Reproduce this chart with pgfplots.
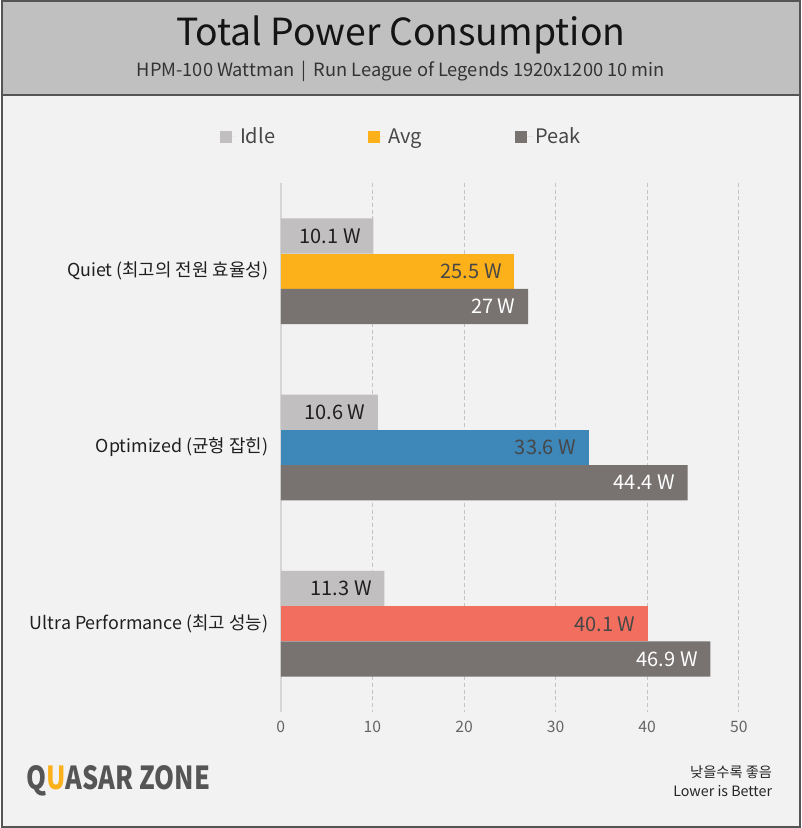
\documentclass[border=0pt]{standalone}
\usepackage{pgfplots}
\pgfplotsset{compat=1.18}
\usepackage{fontspec}
\usepackage{graphicx}
\setmainfont{Noto Sans CJK KR}
\definecolor{bg}{HTML}{F2F2F2}
\definecolor{titlebg}{HTML}{C0C0C0}
\definecolor{framec}{HTML}{555555}
\definecolor{idle}{HTML}{C1BFBF}
\definecolor{avgO}{HTML}{FCB01A}
\definecolor{avgB}{HTML}{3E87B9}
\definecolor{avgR}{HTML}{F26F5F}
\definecolor{peak}{HTML}{787271}
\definecolor{gridc}{HTML}{C4C4C4}
\definecolor{zeroc}{HTML}{D6D6D6}
\begin{document}
\begin{tikzpicture}
\fill[bg] (0,0) rectangle (600pt,621pt);
\fill[titlebg] (0,549.75pt) rectangle (600pt,621pt);
\draw[framec,line width=1.2pt] (0,549.75pt) -- (600pt,549.75pt);
\draw[framec,line width=1.5pt] (0.75pt,0.75pt) rectangle (599.25pt,620.25pt);
\node[font=\fontsize{28}{31}\selectfont, text=black!92] at (300pt,594.75pt) {Total Power Consumption};
\node[font=\fontsize{13.7}{15}\selectfont, text=black!80] at (300pt,567.75pt) {HPM-100 Wattman \,|\, Run League of Legends 1920x1200 10 min};
\node[inner sep=0pt] at (88pt,35.25pt) {\resizebox{138pt}{18pt}{\bfseries\color{framec}Q\textcolor{avgO}{U}ASAR ZONE}};
\node[anchor=east, align=right, font=\fontsize{10.7}{14}\selectfont, text=black!85] at (582pt,35pt) {낮을수록 좋음\\Lower is Better};
\begin{axis}[
  at={(210pt,87pt)}, anchor=south west, scale only axis,
  width=343.5pt, height=396.75pt,
  xbar, xmin=0, xmax=50, ymin=-0.5, ymax=2.5, y dir=reverse,
  bar width=0.2,
  xtick={0,10,...,50}, ytick={0,1,2},
  yticklabels={Quiet (최고의 전원 효율성), Optimized (균형 잡힌), Ultra Performance (최고 성능)},
  axis line style={draw=none}, major tick length=0pt,
  xmajorgrids, grid style={gridc, line width=0.6pt, dash pattern=on 3pt off 2pt},
  extra x ticks={0}, extra x tick labels={},
  extra x tick style={grid style={solid, zeroc, line width=1.6pt}},
  /pgf/number format/assume math mode=true,
  xticklabel style={font=\fontsize{11.8}{13}\selectfont, text=black!60, yshift=-3pt},
  yticklabel style={font=\fontsize{13.4}{15}\selectfont, text=black!88, xshift=-6pt},
  point meta=x,
  nodes near coords={\pgfmathprintnumber{\pgfplotspointmeta} W},
  nodes near coords style={anchor=east, xshift=-6pt, font=\fontsize{15}{17}\selectfont},
  legend columns=3,
  legend style={draw=none, fill=none, at={(axis description cs:0.264,1.087)}, anchor=center,
    font=\fontsize{15}{17}\selectfont, text=black!72,
    /tikz/every even column/.append style={column sep=68pt}},
  legend cell align=left,
  legend image code/.code={\path[#1, draw=none] (0pt,-4.5pt) rectangle (9pt,4.5pt); \path (0pt,0pt) -- (13pt,0pt);},
]
\addplot[fill=idle, draw=none, bar shift=-0.2, nodes near coords style={text=black!88}]
  coordinates {(10.1,0) (10.6,1) (11.3,2)};
\addlegendentry{Idle}
\addplot[fill=avgO, draw=none, bar shift=0, nodes near coords style={text=black!72}]
  coordinates {(25.5,0)};
\addlegendentry{Avg}
\addplot[fill=avgB, draw=none, bar shift=0, forget plot, nodes near coords style={text=black!72}]
  coordinates {(33.6,1)};
\addplot[fill=avgR, draw=none, bar shift=0, forget plot, nodes near coords style={text=black!72}]
  coordinates {(40.1,2)};
\addplot[fill=peak, draw=none, bar shift=0.2, nodes near coords style={text=white}]
  coordinates {(27,0) (44.4,1) (46.9,2)};
\addlegendentry{Peak}
\end{axis}
\end{tikzpicture}
\end{document}
